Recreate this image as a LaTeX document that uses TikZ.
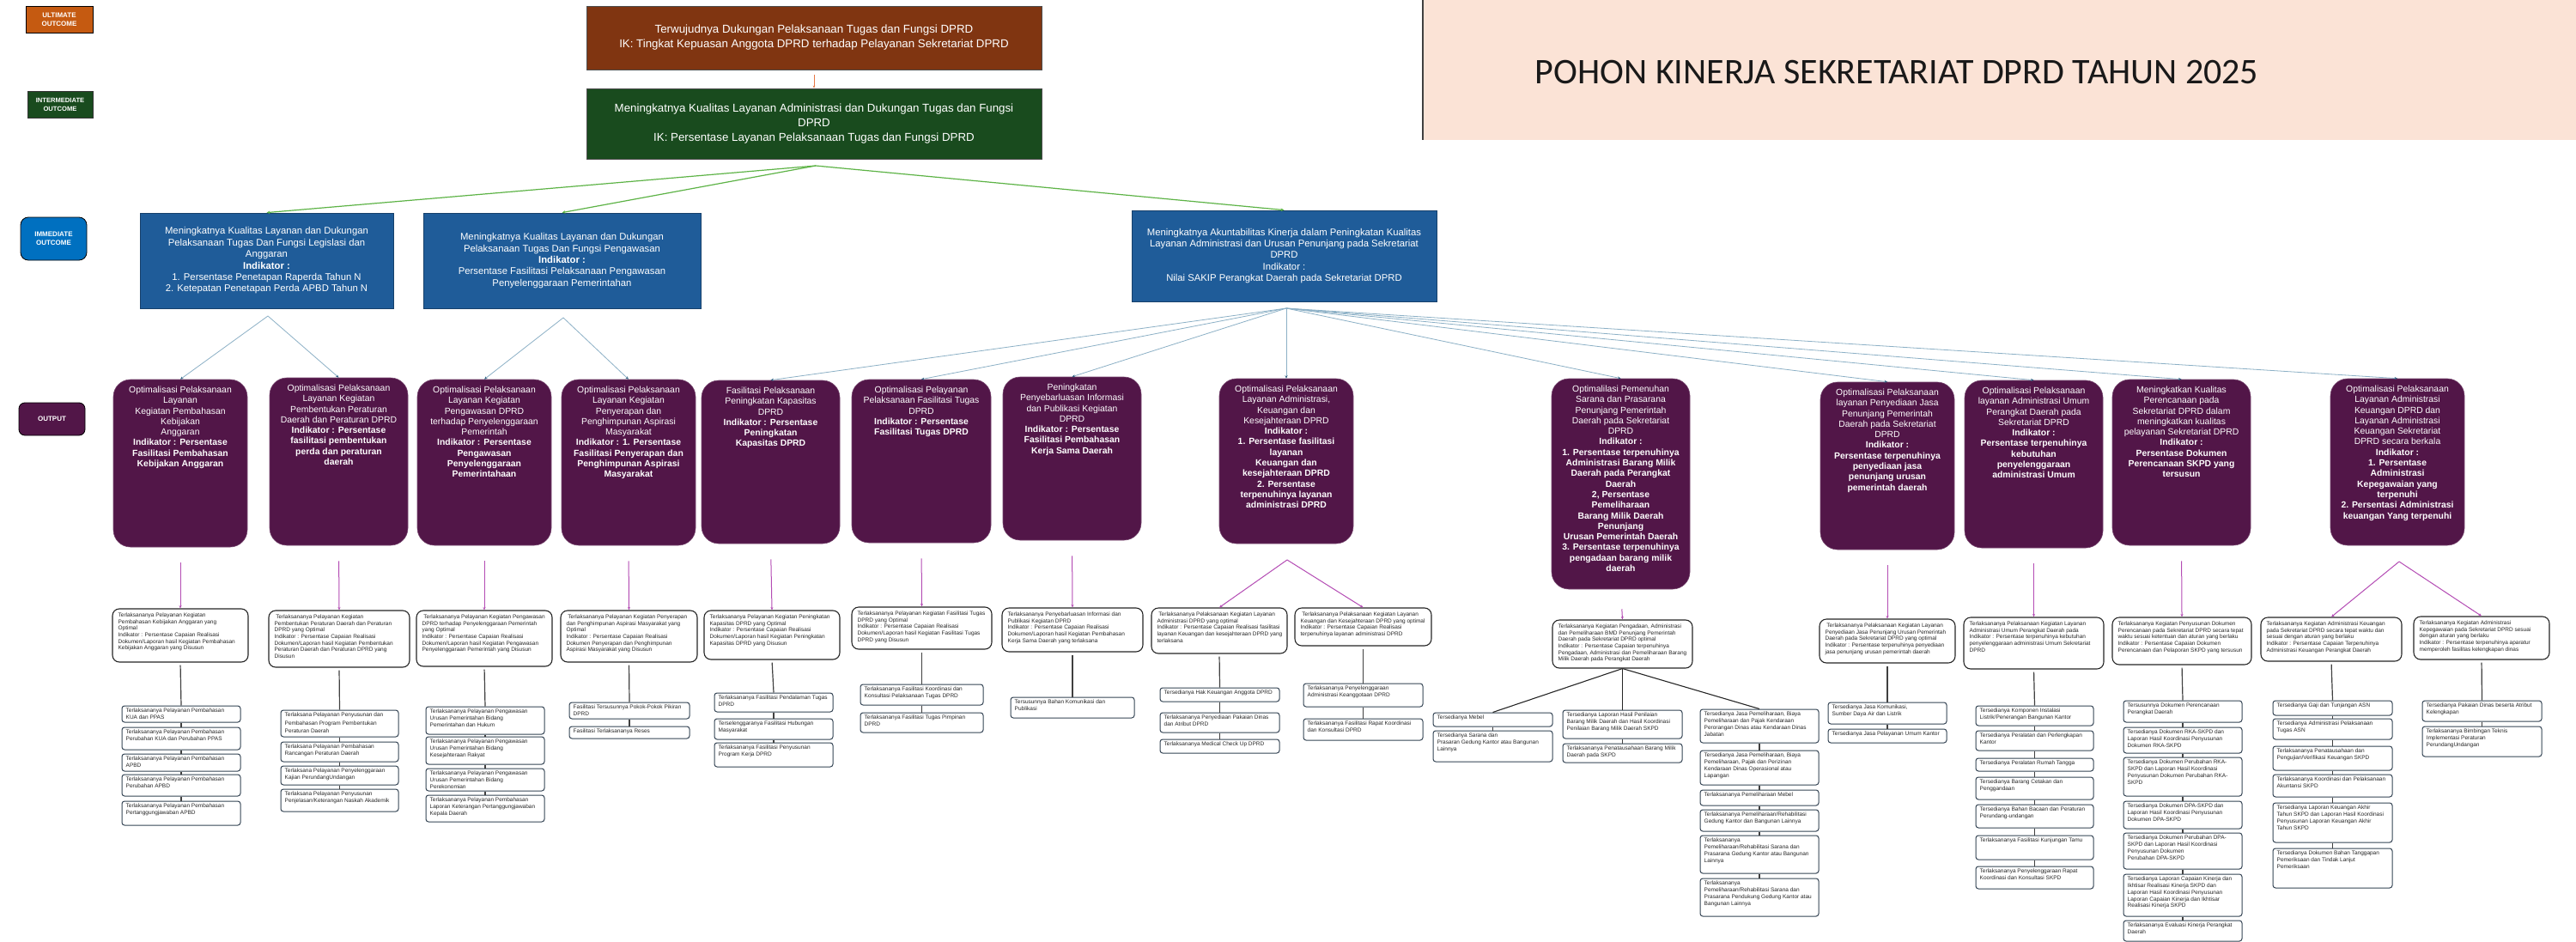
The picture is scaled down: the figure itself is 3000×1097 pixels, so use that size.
\documentclass[tikz,border=0pt]{standalone}
\usepackage{fontspec}
\setmainfont{Liberation Sans}
\newfontfamily\titlefont{Carlito}
\usetikzlibrary{arrows.meta}

\definecolor{cUlt}{RGB}{128,53,17}
\definecolor{cInt}{RGB}{25,75,30}
\definecolor{cLegU}{RGB}{197,90,17}
\definecolor{cLegM}{RGB}{0,112,192}
\definecolor{cImm}{RGB}{31,92,153}
\definecolor{cOut}{RGB}{82,22,72}
\definecolor{cTitle}{RGB}{251,227,214}
\definecolor{cGreen}{RGB}{93,179,70}
\definecolor{cFan}{RGB}{140,176,198}
\definecolor{cFanTip}{RGB}{47,95,128}
\definecolor{cPurp}{RGB}{180,76,180}
\definecolor{cOrange}{RGB}{230,120,70}
\definecolor{cSline}{RGB}{64,64,64}
\definecolor{cSbox}{RGB}{52,68,84}

\newcommand\myB[1]{\textbf{#1}}
\newcommand\mkL[7]{%
  \node[#1, minimum width={(#5-#3)*1pt}, minimum height={(#6-#4)*1pt}, inner sep=0pt] (#2) at ({(#3+#5)/2},{(#4+#6)/2}) {};
  \node[#1txt] (#2t) at (#2.north west) {#7};}
\newcommand\mkC[7]{%
  \node[#1, minimum width={(#5-#3)*1pt}, minimum height={(#6-#4)*1pt}, inner sep=0pt] (#2) at ({(#3+#5)/2},{(#4+#6)/2}) {};
  \node[#1txt] (#2t) at (#2.north) {#7};}

\tikzset{
  ultbox/.style={fill=cUlt, draw=black!70, line width=0.8pt},
  intbox/.style={fill=cInt, draw=black!70, line width=0.8pt},
  immbox/.style={fill=cImm, draw=cImm!70!black, line width=0.8pt},
  bigtxt/.style={text=white, align=center, font=\fontsize{13.3}{17}\selectfont},
  immtxt/.style={text=white, align=center, font=\fontsize{11.3}{13.4}\selectfont},
  legtxt/.style={text=white, align=center, font=\bfseries\fontsize{8}{10}\selectfont},
  obox/.style={fill=cOut, draw=cOut!80!white, line width=0.6pt, rounded corners=20pt},
  oboxtxt/.style={anchor=north, yshift=-8pt, inner sep=0pt, text=white, align=center, font=\fontsize{10.4}{12.3}\selectfont},
  abox/.style={draw=black!85, line width=1.1pt, rounded corners=8pt, fill=white},
  aboxtxt/.style={anchor=north west, xshift=7pt, yshift=-5pt, inner sep=0pt, align=left, text=black!85, font=\fontsize{6.5}{7.7}\selectfont},
  sbox/.style={draw=cSbox, line width=1pt, rounded corners=3pt, fill=white},
  sboxtxt/.style={anchor=north west, xshift=5pt, yshift=-3.5pt, inner sep=0pt, align=left, text=black!85, font=\fontsize{6.5}{7.7}\selectfont},
  greenln/.style={draw=cGreen, line width=1.2pt, -{Stealth[length=4pt, width=3.5pt]}},
  fanln/.style={draw=cFan, line width=0.8pt, -{Stealth[length=3.5pt, width=3pt, color=cFanTip]}},
  purpln/.style={draw=cPurp, line width=1pt, -{Stealth[length=3.5pt, width=3pt]}},
  orgln/.style={draw=cOrange, line width=1pt, -{Stealth[length=3pt, width=2.5pt]}},
  sline/.style={draw=cSline, line width=1.2pt},
  bline/.style={draw=black!85, line width=1.1pt}
}

\begin{document}
\begin{tikzpicture}[x=1pt, y=-1pt]
\useasboundingbox (0,0) rectangle (3000,1097);
\fill[white] (0,0) rectangle (3000,1097);

% title
\node[fill=cTitle, minimum width=1343pt, minimum height=163pt, inner sep=0pt] (T) at (2328.5,81.5) {};
\draw[black!75, line width=1.5pt] (T.north west) -- (T.south west);
\node[font=\titlefont\fontsize{42}{46}\selectfont, text=black!90] (Tt) at (2209,84) {POHON KINERJA SEKRETARIAT DPRD TAHUN 2025};

% legend
\node[fill=cLegU, draw=black, line width=0.8pt, minimum width=78pt, minimum height=31pt, legtxt] (L1) at (69,22.5) {ULTIMATE\\OUTCOME};
\node[fill=cInt, draw=black!80, line width=0.8pt, minimum width=76pt, minimum height=31pt, legtxt, font=\bfseries\fontsize{7.6}{10}\selectfont] (L2) at (70,121.5) {INTERMEDIATE\\OUTCOME};
\node[fill=cLegM, draw=black, line width=0.8pt, rounded corners=9pt, minimum width=77pt, minimum height=50pt, legtxt] (L3) at (62.5,278) {IMMEDIATE\\OUTCOME};
\node[fill=cOut, draw=black, line width=0.8pt, rounded corners=7pt, minimum width=77pt, minimum height=38pt, legtxt] (L4) at (60.5,488) {OUTPUT};

% ultimate / intermediate
\node[ultbox, minimum width=530pt, minimum height=74pt, bigtxt] (U) at (948,44) {Terwujudnya Dukungan Pelaksanaan Tugas dan Fungsi DPRD\\IK: Tingkat Kepuasan Anggota DPRD terhadap Pelayanan Sekretariat DPRD};
\node[intbox, minimum width=530pt, minimum height=82pt, bigtxt] (I) at (948,144) {Meningkatnya Kualitas Layanan Administrasi dan Dukungan Tugas dan Fungsi\\DPRD\\IK: Persentase Layanan Pelaksanaan Tugas dan Fungsi DPRD};
\draw[orgln, shorten <=6pt] (U.south) -- (I.north);

% immediate
\node[immbox, minimum width=295pt, minimum height=111pt, immtxt] (M1) at (310.5,303.5) {Meningkatnya Kualitas Layanan dan  Dukungan\\Pelaksanaan Tugas Dan Fungsi Legislasi dan\\Anggaran\\\textbf{Indikator :}\\1. Persentase Penetapan Raperda Tahun N\\2. Ketepatan Penetapan Perda APBD Tahun N};
\node[immbox, minimum width=323pt, minimum height=111pt, immtxt] (M2) at (654.5,303.5) {Meningkatnya Kualitas Layanan dan  Dukungan\\Pelaksanaan Tugas Dan Fungsi Pengawasan\\\textbf{Indikator :}\\Persentase Fasilitasi Pelaksanaan Pengawasan\\Penyelenggaraan Pemerintahan};
\node[immbox, minimum width=355pt, minimum height=106pt, immtxt] (M3) at (1495.5,298) {Meningkatnya Akuntabilitas Kinerja dalam Peningkatan Kualitas\\Layanan Administrasi dan Urusan Penunjang pada Sekretariat\\DPRD\\Indikator :\\Nilai SAKIP Perangkat Daerah pada Sekretariat DPRD};

\coordinate (gI) at (950,193);
\foreach \m in {M1,M2,M3} \draw[greenln] (gI) -- (\m.north);

% outputs
\mkC{obox}{O1}{132}{442}{288}{637}{Optimalisasi Pelaksanaan\\Layanan\\Kegiatan Pembahasan\\Kebijakan\\Anggaran\\\myB{Indikator :  Persentase}\\\myB{Fasilitasi Pembahasan}\\\myB{Kebijakan Anggaran}}
\mkC{obox}{O2}{314}{440}{475}{635}{Optimalisasi Pelaksanaan\\Layanan Kegiatan\\Pembentukan Peraturan\\Daerah dan Peraturan DPRD\\\myB{Indikator : Persentase}\\\myB{fasilitasi pembentukan}\\\myB{perda dan peraturan}\\\myB{daerah}}
\mkC{obox}{O3}{486}{442}{642}{635}{Optimalisasi Pelaksanaan\\Layanan Kegiatan\\Pengawasan DPRD\\terhadap Penyelenggaraan\\Pemerintah\\\myB{Indikator : Persentase}\\\myB{Pengawasan}\\\myB{Penyelenggaraan}\\\myB{Pemerintahaan}}
\mkC{obox}{O4}{654}{442}{810}{635}{Optimalisasi Pelaksanaan\\Layanan Kegiatan\\Penyerapan dan\\Penghimpunan Aspirasi\\Masyarakat\\\myB{Indikator : 1. Persentase}\\\myB{Fasilitasi Penyerapan dan}\\\myB{Penghimpunan Aspirasi}\\\myB{Masyarakat}}
\mkC{obox}{O5}{817}{443}{978}{633}{Fasilitasi Pelaksanaan\\Peningkatan Kapasitas\\DPRD\\\myB{Indikator : Persentase}\\\myB{Peningkatan}\\\myB{Kapasitas DPRD}}
\mkC{obox}{O6}{992}{442}{1154}{632}{Optimalisasi Pelayanan\\Pelaksanaan Fasilitasi Tugas\\DPRD\\\myB{Indikator : Persentase}\\\myB{Fasilitasi Tugas DPRD}}
\mkC{obox}{O7}{1168}{439}{1329}{629}{Peningkatan\\Penyebarluasan Informasi\\dan Publikasi Kegiatan\\DPRD\\\myB{Indikator : Persentase}\\\myB{Fasilitasi Pembahasan}\\\myB{Kerja Sama Daerah}}
\mkC{obox}{O8}{1420}{441}{1576}{633}{Optimalisasi Pelaksanaan\\Layanan Administrasi,\\Keuangan dan\\Kesejahteraan DPRD\\\myB{Indikator :}\\\myB{1. Persentase fasilitasi}\\\myB{layanan}\\\myB{Keuangan dan}\\\myB{kesejahteraan DPRD}\\\myB{2. Persentase}\\\myB{terpenuhinya layanan}\\\myB{administrasi DPRD}}
\mkC{obox}{O9}{1807}{441}{1968}{686}{Optimalilasi Pemenuhan\\Sarana dan Prasarana\\Penunjang Pemerintah\\Daerah pada Sekretariat\\DPRD\\\myB{Indikator :}\\\myB{1. Persentase terpenuhinya}\\\myB{Administrasi Barang Milik}\\\myB{Daerah pada Perangkat}\\\myB{Daerah}\\\myB{2, Persentase}\\\myB{Pemeliharaan}\\\myB{Barang Milik Daerah}\\\myB{Penunjang}\\\myB{Urusan Pemerintah Daerah}\\\myB{3. Persentase terpenuhinya}\\\myB{pengadaan barang milik}\\\myB{daerah}}
\mkC{obox}{O10}{2120}{445}{2276}{640}{Optimalisasi Pelaksanaan\\layanan Penyediaan Jasa\\Penunjang Pemerintah\\Daerah pada Sekretariat\\DPRD\\\myB{Indikator :}\\\myB{Persentase terpenuhinya}\\\myB{penyediaan jasa}\\\myB{penunjang urusan}\\\myB{pemerintah daerah}}
\mkC{obox}{O11}{2288}{443}{2449}{638}{Optimalisasi Pelaksanaan\\layanan Administrasi Umum\\Perangkat Daerah pada\\Sekretariat DPRD\\\myB{Indikator :}\\\myB{Persentase terpenuhinya}\\\myB{kebutuhan}\\\myB{penyelenggaraan}\\\myB{administrasi  Umum}}
\mkC{obox}{O12}{2460}{442}{2621}{635}{Meningkatkan Kualitas\\Perencanaan pada\\Sekretariat DPRD dalam\\meningkatkan kualitas\\pelayanan Sekretariat DPRD\\\myB{Indikator :}\\\myB{Persentase Dokumen}\\\myB{Perencanaan SKPD yang}\\\myB{tersusun}}
\mkC{obox}{O13}{2714}{441}{2870}{635}{Optimalisasi Pelaksanaan\\Layanan Administrasi\\Keuangan DPRD dan\\Layanan Administrasi\\Keuangan  Sekretariat\\DPRD secara berkala\\\myB{Indikator :}\\\myB{1. Persentase}\\\myB{Administrasi}\\\myB{Kepegawaian yang}\\\myB{terpenuhi}\\\myB{2. Persentasi Administrasi}\\\myB{keuangan Yang terpenuhi}}

% immediate -> output
\coordinate (m1) at (312,368);
\coordinate (m2) at (656,370);
\coordinate (m3) at (1498,359);
\foreach \o in {O1,O2} \draw[fanln] (m1) -- (\o.north);
\foreach \o in {O3,O4} \draw[fanln] (m2) -- (\o.north);
\foreach \o in {O5,O6,O7,O8,O9,O10,O11,O12,O13} \draw[fanln] (m3) -- (\o.north);

% activity boxes
\mkL{abox}{A1}{131}{709}{289}{771}{Terlaksananya Pelayanan Kegiatan\\Pembahasan Kebijakan Anggaran yang\\Optimal\\Indikator : Persentase Capaian Realisasi\\Dokumen/Laporan hasil Kegiatan Pembahasan\\Kebijakan Anggaran yang Disusun}
\mkL{abox}{A2}{313}{711}{477}{777}{\ Terlaksananya Pelayanan Kegiatan\\Pembentukan Peraturan Daerah dan Peraturan\\DPRD yang Optimal\\Indikator : Persentase Capaian Realisasi\\Dokumen/Laporan hasil Kegiatan Pembentukan\\Peraturan Daerah dan Peraturan DPRD yang\\Disusun}
\mkL{abox}{A3}{485}{711}{643}{776}{\ Terlaksananya Pelayanan Kegiatan Pengawasan\\DPRD terhadap Penyelenggaraan Pemerintah\\yang Optimal\\Indikator :  Persentase Capaian Realisasi\\Dokumen/Laporan hasil Kegiatan Pengawasan\\Penyelenggaraan Pemerintah yang Disusun}
\mkL{abox}{A4}{653}{711}{812}{771}{\ Terlaksananya Pelayanan Kegiatan Penyerapan\\dan Penghimpunan Aspirasi Masyarakat yang\\Optimal\\Indikator : Persentase Capaian Realisasi\\Dokumen Penyerapan dan Penghimpunan\\Aspirasi Masyarakat yang Disusun}
\mkL{abox}{A5}{820}{711}{978}{768}{Terlaksananya Pelayanan Kegiatan Peningkatan\\Kapasitas DPRD yang Optimal\\Indikator : Persentase Capaian Realisasi\\Dokumen/Laporan hasil Kegiatan Peningkatan\\Kapasitas DPRD yang Disusun}
\mkL{abox}{A6}{992}{707}{1155}{756}{Terlaksananya Pelayanan Kegiatan Fasilitasi Tugas\\DPRD yang Optimal\\Indikator : Persentase Capaian Realisasi\\Dokumen/Laporan hasil Kegiatan Fasilitasi Tugas\\DPRD yang Disusun}
\mkL{abox}{A7}{1167}{708}{1331}{759}{Terlaksananya Penyebarluasan Informasi dan\\Publikasi Kegiatan DPRD\\Indikator : Persentase Capaian Realisasi\\Dokumen/Laporan hasil Kegiatan Pembahasan\\Kerja Sama Daerah yang terlaksana}
\mkL{abox}{A8a}{1341}{708}{1499}{761}{\ Terlaksananya  Pelaksanaan Kegiatan Layanan\\Administrasi DPRD yang optimal\\Indikator : Persentase Capaian Realisasi fasilitasi\\layanan Keuangan dan kesejahteraan DPRD yang\\terlaksana}
\mkL{abox}{A8b}{1508}{708}{1667}{752}{\ Terlaksananya Pelaksanaan Kegiatan Layanan\\Keuangan dan Kesejahteraan DPRD yang optimal\\Indikator : Persentase Capaian Realisasi\\terpenuhinya layanan administrasi DPRD}
\mkL{abox}{A9}{1808}{722}{1971}{778}{Terlaksananya Kegiatan Pengadaan,  Administrasi\\dan Pemeliharaan  BMD Penunjang Pemerintah\\Daerah pada Sekretariat DPRD optimal\\Indikator : Persentase Capaian terpenuhinya\\Pengadaan, Administrasi dan Pemeliharaan Barang\\Milik Daerah pada Perangkat Daerah}
\mkL{abox}{A10}{2119}{721}{2277}{772}{\ Terlaksananya Pelaksanaan Kegiatan Layanan\\Penyediaan Jasa Penunjang Urusan Pemerintah\\Daerah pada Sekretariat DPRD yang optimal\\Indikator : Persentase terpenuhinya penyediaan\\jasa penunjang urusan pemerintah daerah}
\mkL{abox}{A11}{2287}{719}{2450}{779}{Terlaksananya Pelaksanaan Kegiatan Layanan\\Administrasi Umum Perangkat Daerah pada\\Indikator : Persentase terpenuhinya kebutuhan\\penyelenggaraan administrasi Umum Sekretariat\\DPRD}
\mkL{abox}{A12}{2460}{719}{2622}{774}{Terlaksananya Kegiatan Penyusunan Dokumen\\Perencanaan pada Sekretariat DPRD secara tepat\\waktu sesuai ketentuan dan aturan yang berlaku\\Indikator : Persentase Capaian Dokumen\\Perencanaan dan Pelaporan SKPD yang tersusun}
\mkL{abox}{A13a}{2633}{719}{2797}{770}{Terlaksananya Kegiatan Administrasi Keuangan\\pada Sekretariat DPRD  secara tepat waktu dan\\sesuai dengan  aturan yang berlaku\\Indikator : Persentase Capaian Terpenuhinya\\Administrasi Keuangan Perangkat Daerah}
\mkL{abox}{A13b}{2811}{718}{2969}{768}{Terlaksananya  Kegiatan Administrasi\\Kepegawaian  pada Sekretariat DPRD  sesuai\\dengan aturan yang berlaku\\Indikator : Persentase terpenuhinya aparatur\\memperoleh fasilitas kelengkapan dinas}

% output -> activity
\foreach \o/\a in {O1/A1,O2/A2,O3/A3,O4/A4,O5/A5,O6/A6,O7/A7,O10/A10,O11/A11,O12/A12}
  \draw[purpln, shorten <=18pt] (\o.south) -- (\a.north);
\draw[purpln, shorten <=23pt] (O9.south) -- (A9.north);
\coordinate (o8) at (1499,652);
\coordinate (o13) at (2794,654);
\draw[purpln] (o8) -- (A8a.north);
\draw[purpln] (o8) -- (A8b.north);
\draw[purpln] (o13) -- (A13a.north);
\draw[purpln] (o13) -- (A13b.north);

% sub boxes
\mkL{sbox}{S1a}{142}{822}{280}{841}{Terlaksananya Pelayanan Pembahasan\\KUA dan PPAS}
\mkL{sbox}{S1b}{142}{847}{280}{873}{Terlaksananya Pelayanan Pembahasan\\Perubahan KUA dan Perubahan PPAS}
\mkL{sbox}{S1c}{142}{878}{280}{898}{Terlaksananya Pelayanan  Pembahasan\\APBD}
\mkL{sbox}{S1d}{142}{902}{280}{927}{Terlaksananya Pelayanan Pembahasan\\Perubahan APBD}
\mkL{sbox}{S1e}{142}{933}{280}{961}{Terlaksananya Pelayanan Pembahasan\\Pertanggungjawaban APBD}

\mkL{sbox}{S2a}{327}{827}{464}{858}{Terlaksana Pelayanan Penyusunan dan\\[1.5pt]Pembahasan Program Pembentukan\\[1.5pt]Peraturan Daerah}
\mkL{sbox}{S2b}{327}{864}{464}{887}{Terlaksana Pelayanan Pembahasan\\Rancangan Peraturan Daerah}
\mkL{sbox}{S2c}{327}{892}{464}{914}{Terlaksana Pelayanan Penyelenggaraan\\Kajian PerundangUndangan}
\mkL{sbox}{S2d}{327}{919}{464}{945}{Terlaksana Pelayanan Penyusunan\\Penjelasan/Keterangan Naskah Akademik}

\mkL{sbox}{S3a}{496}{823}{634}{855}{Terlaksananya Pelayanan Pengawasan\\Urusan Pemerintahan Bidang\\Pemerintahan dan Hukum}
\mkL{sbox}{S3b}{496}{858}{634}{890}{Terlaksananya Pelayanan Pengawasan\\Urusan Pemerintahan Bidang\\Kesejahteraan Rakyat}
\mkL{sbox}{S3c}{496}{895}{634}{921}{Terlaksananya Pelayanan Pengawasan\\Urusan Pemerintahan Bidang\\Perekonomian}
\mkL{sbox}{S3d}{496}{926}{634}{957}{Terlaksananya Pelayanan Pembahasan\\Laporan Keterangan Pertanggungjawaban\\Kepala Daerah}

\mkL{sbox}{S4a}{663}{818}{803}{837}{Fasilitasi Tersusunnya Pokok-Pokok Pikiran\\DPRD}
\mkL{sbox}{S4b}{663}{846}{803}{860}{Fasilitasi Terlaksananya Reses}

\mkL{sbox}{S5a}{832}{807}{970}{829}{Terlaksananya Fasilitasi Pendalaman Tugas\\DPRD}
\mkL{sbox}{S5b}{832}{837}{970}{861}{Terselenggaranya Fasilitasi Hubungan\\Masyarakat}
\mkL{sbox}{S5c}{832}{865}{970}{893}{Terlaksananya Fasilitasi Penyusunan\\Program Kerja DPRD}

\mkL{sbox}{S6a}{1002}{797}{1145}{821}{Terlaksananya Fasilitasi Koordinasi dan\\Konsultasi Pelaksanaan Tugas DPRD}
\mkL{sbox}{S6b}{1002}{830}{1145}{853}{Terlaksananya Fasilitasi Tugas Pimpinan\\DPRD}

\mkL{sbox}{S7a}{1177}{812}{1321}{836}{Tersusunnya Bahan Komunikasi dan\\Publikasi}

\mkL{sbox}{S8a1}{1351}{801}{1490}{817}{Tersedianya Hak Keuangan Anggota DPRD}
\mkL{sbox}{S8a2}{1351}{830}{1490}{853}{Terlaksananya Penyediaan Pakaian Dinas\\dan Atribut DPRD}
\mkL{sbox}{S8a3}{1351}{861}{1490}{877}{Terlaksananya Medical Check Up DPRD}

\mkL{sbox}{S8b1}{1518}{796}{1657}{823}{Terlaksananya Penyelenggaraan\\Administrasi Keanggotaan DPRD}
\mkL{sbox}{S8b2}{1518}{837}{1657}{862}{Terlaksananya Fasilitasi Rapat Koordinasi\\dan Konsultasi DPRD}

\mkL{sbox}{S9a1}{1669}{830}{1808}{846}{Tersedianya Mebel}
\mkL{sbox}{S9a2}{1669}{851}{1808}{887}{Tersedianya Sarana dan\\Prasaran Gedung Kantor atau Bangunan\\Lainnya}
\mkL{sbox}{S9b1}{1820}{827}{1959}{860}{Tersedianya Laporan Hasil Penilaian\\Barang Milik Daerah dan Hasil Koordinasi\\Penilaian Barang Milik Daerah SKPD}
\mkL{sbox}{S9b2}{1820}{866}{1959}{888}{Terlaksananya Penatausahaan Barang Milik\\Daerah pada SKPD}
\mkL{sbox}{S9c1}{1980}{826}{2118}{865}{Tersedianya Jasa Pemeliharaan, Biaya\\Pemeliharaan dan Pajak Kendaraan\\Perorangan Dinas atau Kendaraan Dinas\\Jabatan}
\mkL{sbox}{S9c2}{1980}{874}{2118}{914}{Tersedianya Jasa Pemeliharaan, Biaya\\Pemeliharaan, Pajak dan Perizinan\\Kendaraan Dinas Operasional atau\\Lapangan}
\mkL{sbox}{S9c3}{1980}{920}{2118}{938}{Terlaksananya Pemeliharaan Mebel}
\mkL{sbox}{S9c4}{1980}{943}{2118}{968}{Terlaksananya Pemeliharaan/Rehabilitasi\\Gedung Kantor dan Bangunan Lainnya}
\mkL{sbox}{S9c5}{1980}{973}{2118}{1017}{Terlaksananya\\Pemeliharaan/Rehabilitasi Sarana dan\\Prasarana Gedung Kantor atau Bangunan\\Lainnya}
\mkL{sbox}{S9c6}{1980}{1023}{2118}{1067}{Terlaksananya\\Pemeliharaan/Rehabilitasi Sarana dan\\Prasarana Pendukung Gedung Kantor atau\\Bangunan Lainnya}

\mkL{sbox}{S10a}{2129}{818}{2267}{843}{Tersedianya Jasa Komunikasi,\\Sumber Daya Air dan Listrik}
\mkL{sbox}{S10b}{2129}{849}{2267}{865}{Tersedianya Jasa Pelayanan Umum Kantor}

\mkL{sbox}{S11a}{2301}{822}{2438}{845}{Tersedianya Komponen Instalasi\\Listrik/Penerangan Bangunan Kantor}
\mkL{sbox}{S11b}{2301}{851}{2438}{874}{Tersedianya Peralatan dan Perlengkapan\\Kantor}
\mkL{sbox}{S11c}{2301}{883}{2438}{898}{Tersedianya Peralatan Rumah Tangga}
\mkL{sbox}{S11d}{2301}{905}{2438}{931}{Tersedianya Barang Cetakan dan\\Penggandaan}
\mkL{sbox}{S11e}{2301}{937}{2438}{964}{Tersedianya Bahan Bacaan dan Peraturan\\Perundang-undangan}
\mkL{sbox}{S11f}{2301}{973}{2438}{1001}{Terlaksananya Fasilitasi Kunjungan Tamu}
\mkL{sbox}{S11g}{2301}{1009}{2438}{1035}{Terlaksananya Penyelenggaraan Rapat\\Koordinasi dan Konsultasi SKPD}

\mkL{sbox}{S12a}{2473}{816}{2611}{841}{Tersusunnya Dokumen Perencanaan\\Perangkat Daerah}
\mkL{sbox}{S12b}{2473}{847}{2611}{877}{Tersedianya Dokumen RKA-SKPD dan\\Laporan Hasil Koordinasi Penyusunan\\Dokumen RKA-SKPD}
\mkL{sbox}{S12c}{2473}{882}{2611}{927}{Tersedianya Dokumen Perubahan RKA-\\SKPD dan Laporan Hasil Koordinasi\\Penyusunan Dokumen Perubahan RKA-\\SKPD}
\mkL{sbox}{S12d}{2473}{933}{2611}{965}{Tersedianya Dokumen DPA-SKPD dan\\Laporan Hasil Koordinasi Penyusunan\\Dokumen DPA-SKPD}
\mkL{sbox}{S12e}{2473}{970}{2611}{1012}{Tersedianya Dokumen Perubahan DPA-\\SKPD dan Laporan Hasil Koordinasi\\Penyusunan Dokumen\\Perubahan DPA-SKPD}
\mkL{sbox}{S12f}{2473}{1018}{2611}{1067}{Tersedianya Laporan Capaian Kinerja dan\\Ikhtisar Realisasi Kinerja SKPD dan\\Laporan Hasil Koordinasi Penyusunan\\Laporan Capaian Kinerja dan Ikhtisar\\Realisasi Kinerja SKPD}
\mkL{sbox}{S12g}{2473}{1072}{2611}{1096}{Terlaksananya Evaluasi Kinerja Perangkat\\Daerah}

\mkL{sbox}{S13a1}{2647}{816}{2786}{833}{Tersedianya Gaji dan Tunjangan ASN}
\mkL{sbox}{S13a2}{2647}{837}{2786}{861}{Tersedianya Administrasi Pelaksanaan\\Tugas ASN}
\mkL{sbox}{S13a3}{2647}{869}{2786}{897}{Terlaksananya Penatausahaan dan\\Pengujian/Verifikasi Keuangan SKPD}
\mkL{sbox}{S13a4}{2647}{902}{2786}{928}{Terlaksananya Koordinasi dan Pelaksanaan\\Akuntansi SKPD}
\mkL{sbox}{S13a5}{2647}{935}{2786}{981}{Tersedianya Laporan Keuangan Akhir\\Tahun SKPD dan Laporan Hasil Koordinasi\\Penyusunan Laporan Keuangan Akhir\\Tahun SKPD}
\mkL{sbox}{S13a6}{2647}{988}{2786}{1034}{Tersedianya Dokumen Bahan Tanggapan\\Pemeriksaan dan Tindak Lanjut\\Pemeriksaan}
\mkL{sbox}{S13b1}{2821}{816}{2960}{840}{Tersedianya Pakaian Dinas beserta Atribut\\Kelengkapan}
\mkL{sbox}{S13b2}{2821}{846}{2960}{881}{Terlaksananya Bimbingan Teknis\\Implementasi Peraturan\\PerundangUndangan}

% activity -> first sub box
\foreach \a/\s in {A1/S1a,A2/S2a,A3/S3a,A4/S4a,A5/S5a,A6/S6a,A7/S7a,A8a/S8a1,A8b/S8b1,A10/S10a,A11/S11a,A12/S12a,A13a/S13a1,A13b/S13b1}
  \draw[sline, shorten <=3pt] (\a.south) -- (\s.north);
\foreach \s in {S9a1,S9b1,S9c1} \draw[bline] (A9.south) -- (\s.north);

% chains
\foreach \p/\q in {S1a/S1b,S1b/S1c,S1c/S1d,S1d/S1e,S2a/S2b,S2b/S2c,S2c/S2d,S3a/S3b,S3b/S3c,S3c/S3d,S4a/S4b,S5a/S5b,S5b/S5c,S6a/S6b,S8a1/S8a2,S8a2/S8a3,S8b1/S8b2,S9a1/S9a2,S9b1/S9b2,S9c1/S9c2,S9c2/S9c3,S9c3/S9c4,S9c4/S9c5,S9c5/S9c6,S10a/S10b,S11a/S11b,S11b/S11c,S11c/S11d,S11d/S11e,S11e/S11f,S11f/S11g,S12a/S12b,S12b/S12c,S12c/S12d,S12d/S12e,S12e/S12f,S12f/S12g,S13a1/S13a2,S13a2/S13a3,S13a3/S13a4,S13a4/S13a5,S13a5/S13a6,S13b1/S13b2}
  \draw[sline] (\p.south) -- (\q.north);
\end{tikzpicture}
\end{document}
